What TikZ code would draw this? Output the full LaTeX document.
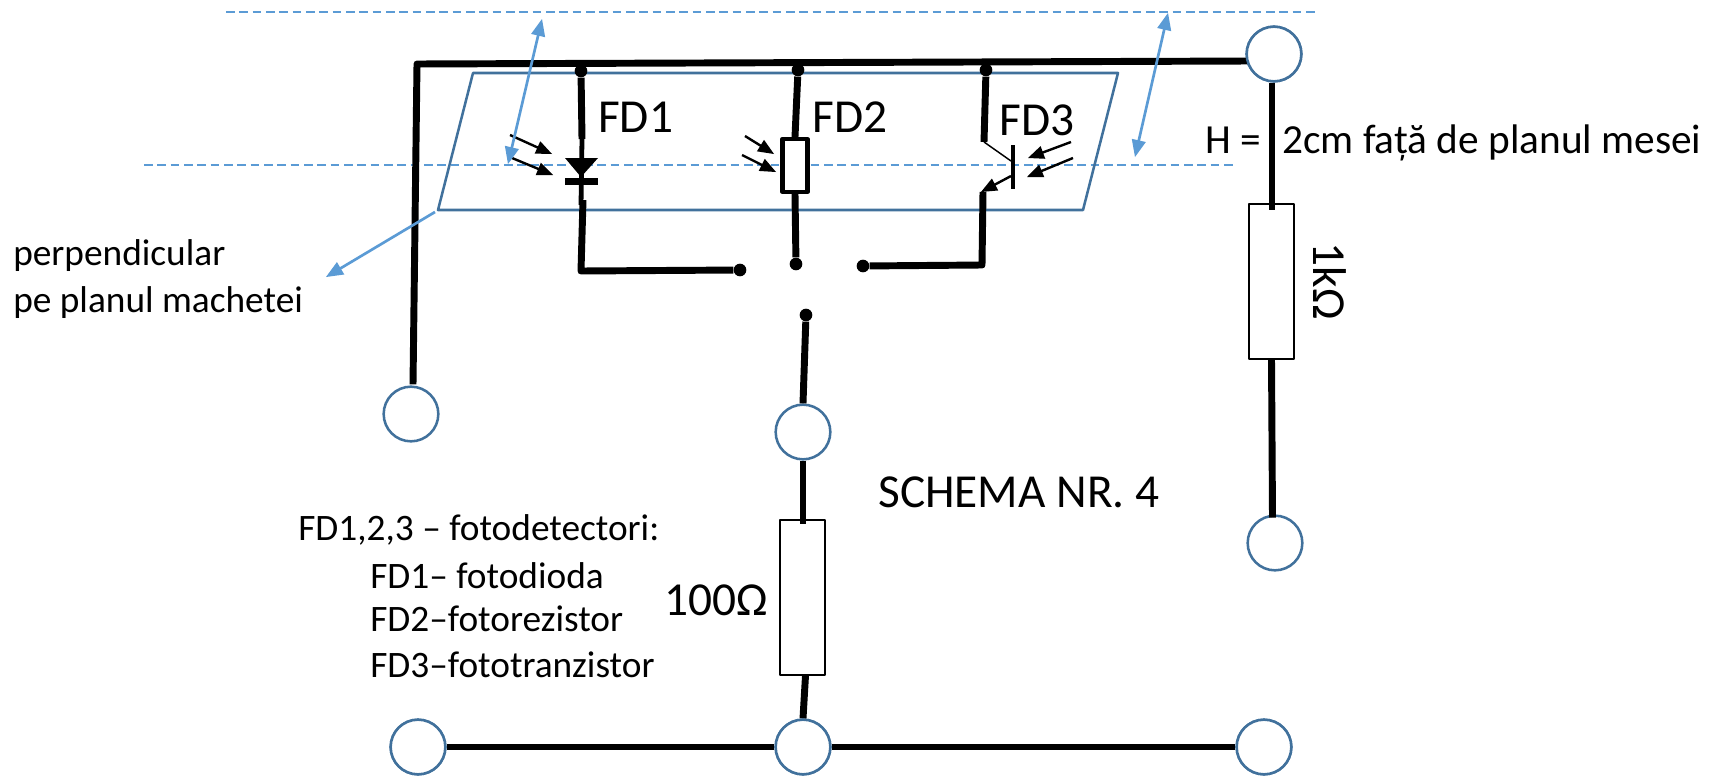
\documentclass[tikz,border=0pt]{standalone}
\usepackage{fontspec}
\setmainfont{Carlito}
\usetikzlibrary{arrows}
\definecolor{planblue}{HTML}{41719C}
\definecolor{lightblue}{HTML}{5B9BD5}
\tikzset{
  wire/.style={line width=5.2pt,line cap=butt},
  clamp/.style={circle,draw=planblue,line width=1.9pt,fill=white,minimum size=41pt,inner sep=0pt},
  res/.style={rectangle,draw=black,line width=1.3pt,fill=white,inner sep=0pt},
  dot/.style={circle,fill=black,minimum size=9.5pt,inner sep=0pt},
  level/.style={dash pattern=on 6.5pt off 3.5pt,color=lightblue,line width=1pt},
  height/.style={<->,color=lightblue,line width=2pt},
  ray/.style={->,line width=1.8pt},
  biglabel/.style={font=\fontsize{35.5}{35.5}\selectfont,anchor=base west,inner sep=0pt},
  smalllabel/.style={font=\fontsize{28}{28}\selectfont,anchor=base west,inner sep=0pt}
}
\begin{document}
\begin{tikzpicture}[line join=round,>=triangle 45,x=0.75pt,y=-0.75pt]
		\useasboundingbox (0,0) rectangle (1721,778);

		%tasot
		\draw[level] (226,12)--(1318,12);
		\draw[level] (144,165)--(1237,165);
		\draw[color=planblue,line width=1.9pt] (473,73)--(1118,73)--(1083,210)--(438,210)--cycle;

		%liittimet
		\node[clamp] (topright) at (1274,54) {};
		\node[clamp] (left) at (411,414) {};
		\node[clamp] (mid) at (803,432) {};
		\node[clamp] (right) at (1275,543) {};
		\node[clamp] (botleft) at (418,747) {};
		\node[clamp] (botmid) at (803,747) {};
		\node[clamp] (botright) at (1264,747) {};

		%vastukset
		\node[res,minimum width=33.5pt,minimum height=116pt] (r1k) at (1271.5,281.5) {};
		\node[res,minimum width=33.5pt,minimum height=116pt] (r100) at (802.5,597.5) {};

		%pisteet
		\coordinate (corner) at (417,64);
		\coordinate (busend) at (1250,61);
		\node[dot] (dfd1) at (581,71) {};
		\node[dot] (dfd2) at (798,70) {};
		\node[dot] (dfd3) at (986,70) {};
		\node[dot] (sw1) at (740,270) {};
		\node[dot] (sw2) at (796,264) {};
		\node[dot] (sw3) at (863,266) {};
		\node[dot] (swc) at (806,315) {};

		%kiskot
		\draw[wire] (left.north)+(2,-1) -- (corner) -- (busend);
		\draw[wire] (topright.south)+(-2,0) -- ++(-2,127);
		\draw[wire] (r1k.south) -- ++(1,158);
		\draw[wire] (swc) -- (mid.north);
		\draw[wire] (mid.south) -- ++(0,63);
		\draw[wire] (r100.south)+(3,0) -- (botmid.north);
		\draw[wire] (botleft) -- (botmid);
		\draw[wire] (botmid) -- (botright);
		\node[clamp] at (topright) {};
		\node[clamp] at (botleft) {};
		\node[clamp] at (botmid) {};
		\node[clamp] at (botright) {};

		% FD1
		\coordinate (a1) at (582,139);
		\coordinate (a2) at (581,205);
		\coordinate (a3) at (583,200);
		\coordinate (a4) at (581,271);
		\draw[wire] (dfd1) -- (a1);
		\draw[line width=3.6pt] (a1) -- (a2);
		\draw[wire] (a3) -- (a4) -- (sw1);
		\fill (565,158)--(598,158)--(581,177)--cycle;
		\fill (565,178) rectangle (598,185);
		\draw[ray] (510,135)--(552,154);
		\draw[ray] (512,158)--(553,175);

		% FD2
		\node[rectangle,draw=black,line width=3.4pt,fill=white,minimum width=19pt,minimum height=39.5pt,inner sep=0pt] (rfd2) at (795,165.5) {};
		\draw[wire] (dfd2) -- (rfd2.north);
		\draw[wire] (rfd2.south) -- (sw2);
		\draw[ray] (745,136)--(774,154);
		\draw[ray] (742,155)--(776,172);

		% FD3
		\coordinate (c1) at (984,142);
		\coordinate (c2) at (1011,161);
		\coordinate (e1) at (1011,176);
		\coordinate (e2) at (981,192);
		\coordinate (e3) at (983,192);
		\coordinate (e4) at (982,265);
		\draw[wire] (dfd3) -- (c1);
		\draw[line width=1.1pt] (c1) -- (c2);
		\draw[line width=2.6pt] (1013,145)--(1013,189);
		\draw[->,line width=1.8pt] (e1) -- (e2);
		\draw[wire] (e3) -- (e4) -- (sw3);
		\draw[ray] (1071,142)--(1028,158);
		\draw[ray] (1073,158)--(1027,177);

		%korkeudet
		\draw[height] (542,19)--(508,164);
		\draw[height] (1168,13)--(1135,157);
		\draw[->,color=lightblue,line width=2pt] (435,212)--(326,277);

		%tekstit
		\node[biglabel] (fd1) at (598,132) {FD1};
		\node[biglabel] (fd2) at (812,132) {FD2};
		\node[biglabel] (fd3) at (999,135) {FD3};
		\node[font=\fontsize{31}{31}\selectfont,anchor=base west,inner sep=0pt] (hlabel) at (1205,153) {H =\hspace{16pt}2cm față de planul mesei};
		\node[biglabel,rotate=-90,anchor=center] (l1k) at (1330,281) {1kΩ};
		\node[biglabel,anchor=center] (l100) at (716,600) {100Ω};
		\node[biglabel,anchor=center] (schema) at (1019,492) {SCHEMA NR. 4};
		\node[smalllabel] (perp1) at (13,265) {perpendicular};
		\node[smalllabel] (perp2) at (13,312) {pe planul machetei};
		\node[smalllabel] (list0) at (298,540) {FD1,2,3 – fotodetectori:};
		\node[smalllabel] (list1) at (370,588) {FD1– fotodioda};
		\node[smalllabel] (list2) at (370,631) {FD2–fotorezistor};
		\node[smalllabel] (list3) at (370,677) {FD3–fototranzistor};
	\end{tikzpicture}
\end{document}
